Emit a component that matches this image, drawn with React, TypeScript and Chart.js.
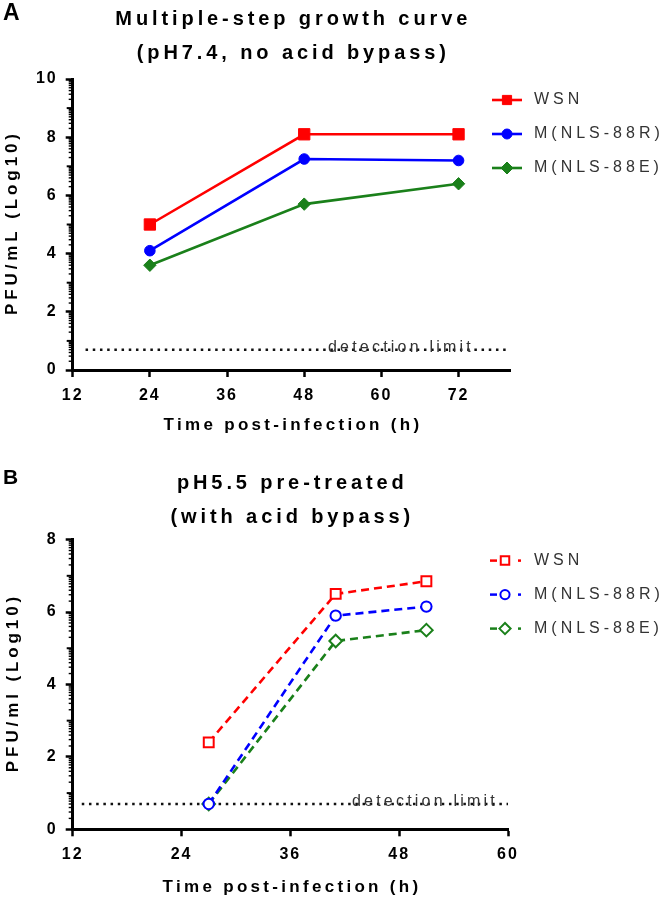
import React, { useEffect, useRef } from 'react';
import { Chart, registerables } from 'chart.js';
import { drawPoint } from 'chart.js/helpers';

Chart.register(...registerables);

const FONT = "Arial, 'Liberation Sans', Helvetica, sans-serif";

// ---------- data ----------
const seriesNames = ['WSN', 'M(NLS-88R)', 'M(NLS-88E)'];
const seriesColors = ['#FF0000', '#0000FF', '#1A801A'];
const pointStyles = ['rect', 'circle', 'rectRot'];

const timesA = [24, 48, 72];
const wsnA = [5.0, 8.1, 8.1];
const m88rA = [4.1, 7.25, 7.2];
const m88eA = [3.6, 5.7, 6.4];
const xTicksA = [12, 24, 36, 48, 60, 72];
const yTicksA = [0, 2, 4, 6, 8, 10];

const timesB = [27, 41, 51];
const wsnB = [2.4, 6.5, 6.85];
const m88rB = [0.7, 5.9, 6.15];
const m88eB = [0.7, 5.2, 5.5];
const xTicksB = [12, 24, 36, 48, 60];
const yTicksB = [0, 2, 4, 6, 8];

const detectionLimit = 0.7;
const detectionRangeA = [14, 80];
const detectionRangeB = [13, 60];

// ---------- panel layout specs ----------
const panelA = {
  letter: 'A', letterSize: 23, letterY: 14,
  title: ['Multiple-step growth curve', '(pH7.4, no acid bypass)'], titleY: [19, 53],
  yTitle: 'PFU/mL (Log10)', xTitle: 'Time post-infection (h)', yTitleX: 12, xTitleY: 425,
  height: 445, top: 79, right: 157, xAxisH: 75,
  xMin: 12, xMax: 80, yMin: 0, yMax: 10,
  xTicks: xTicksA, yTicks: yTicksA, times: timesA, series: [wsnA, m88rA, m88eA],
  dashed: false, detRange: detectionRangeA, detTextX: 328,
  radii: [8, 5.3, 6.2], legendRadii: [6.5, 5, 6], legendMarkerX: 507,
};

const panelB = {
  letter: 'B', letterSize: 21, letterY: 33,
  title: ['pH5.5 pre-treated', '(with acid bypass)'], titleY: [38, 72],
  yTitle: 'PFU/ml (Log10)', xTitle: 'Time post-infection (h)', yTitleX: 13, xTitleY: 442,
  height: 454, top: 94.6, right: 159, xAxisH: 69.7,
  xMin: 12, xMax: 60, yMin: 0, yMax: 8,
  xTicks: xTicksB, yTicks: yTicksB, times: timesB, series: [wsnB, m88rB, m88eB],
  dashed: true, detRange: detectionRangeB, detTextX: 352,
  radii: [7, 5.2, 6.3], legendRadii: [6, 4.6, 5.6], legendMarkerX: 505,
};

const legendOffsets = [21, 55, 89];

function drawText(ctx, str, x, y, font, color, spacing, align = 'center', baseline = 'middle', rotate = 0) {
  ctx.save();
  ctx.font = font;
  ctx.fillStyle = color;
  ctx.letterSpacing = spacing + 'px';
  ctx.textAlign = 'left';
  ctx.textBaseline = baseline;
  const w = ctx.measureText(str).width - spacing;
  ctx.translate(x, y);
  if (rotate) ctx.rotate(rotate);
  const sx = align === 'center' ? -w / 2 : align === 'right' ? -w : 0;
  ctx.fillText(str, sx, 0);
  ctx.restore();
}

function seg(ctx, x1, y1, x2, y2, w) {
  ctx.lineWidth = w;
  ctx.beginPath();
  ctx.moveTo(x1, y1);
  ctx.lineTo(x2, y2);
  ctx.stroke();
}

function buildConfig(spec) {
  const datasets = spec.series.map((vals, i) => ({
    label: seriesNames[i],
    data: spec.times.map((t, j) => ({ x: t, y: vals[j] })),
    borderColor: seriesColors[i],
    backgroundColor: spec.dashed ? '#FFFFFF' : seriesColors[i],
    pointBackgroundColor: spec.dashed ? '#FFFFFF' : seriesColors[i],
    pointBorderColor: seriesColors[i],
    pointStyle: pointStyles[i],
    pointRadius: spec.radii[i],
    pointBorderWidth: spec.dashed ? 2 : 1,
    borderWidth: 2.6,
    borderDash: spec.dashed ? [8, 5] : [],
    tension: 0,
    clip: false,
  }));
  datasets.push({
    label: 'detection limit',
    data: spec.detRange.map((x) => ({ x, y: detectionLimit })),
    borderColor: '#111111',
    backgroundColor: '#111111',
    borderWidth: 2.5,
    borderDash: [2.5, 4.7],
    pointRadius: 0,
    tension: 0,
    clip: false,
  } as any);

  const spacingPlugin = {
    id: 'spacing',
    beforeLayout(chart) { chart.ctx.letterSpacing = '2px'; },
    beforeDraw(chart) { chart.ctx.letterSpacing = '2px'; },
  };

  const decorPlugin = {
    id: 'decor',
    afterDraw(chart) {
      const { ctx, chartArea } = chart;
      const ys = chart.scales.y;
      const cx = (chartArea.left + chartArea.right) / 2;
      ctx.save();
      ctx.letterSpacing = '0px';
      ctx.strokeStyle = '#000';
      ctx.lineCap = 'butt';
      // minor log ticks on y axis
      for (let n = spec.yMin; n < spec.yMax; n++) {
        for (let k = 2; k <= 9; k++) {
          const py = ys.getPixelForValue(n + Math.log10(k));
          seg(ctx, chartArea.left - 4, py, chartArea.left, py, 1.4);
        }
        if (n % 2 === 1) {
          const py = ys.getPixelForValue(n);
          seg(ctx, chartArea.left - 6, py, chartArea.left, py, 2);
        }
      }
      ctx.restore();

      // panel letter
      drawText(ctx, spec.letter, 3, spec.letterY, `bold ${spec.letterSize}px ${FONT}`, '#000', 0, 'left');
      // titles
      spec.title.forEach((t, i) => drawText(ctx, t, cx, spec.titleY[i], `bold 20px ${FONT}`, '#000', 3.9));
      // axis titles
      drawText(ctx, spec.yTitle, spec.yTitleX, (chartArea.top + chartArea.bottom) / 2, `bold 17px ${FONT}`, '#000', 3.9, 'center', 'middle', -Math.PI / 2);
      drawText(ctx, spec.xTitle, cx, spec.xTitleY, `bold 17px ${FONT}`, '#000', 3.3);
      // detection limit label
      const dy = ys.getPixelForValue(detectionLimit);
      drawText(ctx, 'detection limit', spec.detTextX, dy + 2.5, `16px ${FONT}`, '#333', 3.2, 'left', 'alphabetic');

      // legend
      seriesNames.forEach((name, i) => {
        const y = chartArea.top + legendOffsets[i];
        const mx = spec.legendMarkerX;
        ctx.save();
        ctx.strokeStyle = seriesColors[i];
        ctx.fillStyle = spec.dashed ? '#FFFFFF' : seriesColors[i];
        if (!spec.dashed) {
          seg(ctx, mx - 15, y, mx + 15, y, 2.6);
        } else {
          seg(ctx, mx - 15, y, mx - 8, y, 2.5);
          seg(ctx, mx + 13, y, mx + 16, y, 2.5);
        }
        ctx.lineWidth = spec.dashed ? 2 : 1;
        drawPoint(ctx, { pointStyle: pointStyles[i], rotation: 0, radius: spec.legendRadii[i], borderWidth: spec.dashed ? 2 : 1 } as any, mx, y);
        ctx.restore();
        drawText(ctx, name, 534, y, `16px ${FONT}`, '#333', 4, 'left');
      });
    },
  };

  const tickFont = { family: FONT, size: 16, weight: 'bold' as const };
  const commonGrid = { display: true, drawOnChartArea: false, drawTicks: true, tickLength: 7, tickWidth: 2.5, tickColor: '#000' };

  return {
    type: 'line',
    data: { datasets },
    options: {
      animation: false,
      responsive: false,
      devicePixelRatio: 1,
      events: [],
      layout: { padding: { left: 0, top: spec.top, right: spec.right, bottom: 0 } },
      plugins: { legend: { display: false }, tooltip: { enabled: false }, title: { display: false } },
      scales: {
        x: {
          type: 'linear',
          min: spec.xMin,
          max: spec.xMax,
          afterBuildTicks: (s) => { s.ticks = spec.xTicks.map((v) => ({ value: v })); },
          afterFit: (s) => { s.height = spec.xAxisH; },
          border: { display: true, color: '#000', width: 3 },
          grid: commonGrid,
          ticks: { font: tickFont, color: '#000', padding: 9, maxRotation: 0, autoSkip: false },
        },
        y: {
          type: 'linear',
          min: spec.yMin,
          max: spec.yMax,
          afterBuildTicks: (s) => { s.ticks = spec.yTicks.map((v) => ({ value: v })); },
          afterFit: (s) => { s.width = 72.7; },
          border: { display: true, color: '#000', width: 3 },
          grid: commonGrid,
          ticks: { font: tickFont, color: '#000', padding: 8, autoSkip: false },
        },
      },
    },
    plugins: [spacingPlugin, decorPlugin],
  } as any;
}

function Panel({ spec }) {
  const ref = useRef<HTMLCanvasElement | null>(null);
  useEffect(() => {
    if (!ref.current) return;
    const chart = new Chart(ref.current, buildConfig(spec));
    return () => chart.destroy();
  }, [spec]);
  return (
    <canvas
      ref={ref}
      width={667}
      height={spec.height}
      style={{ display: 'block', width: 667, height: spec.height }}
    />
  );
}

export default function App() {
  return (
    <div style={{ position: 'absolute', left: 0, top: 0, width: 667, height: 899, background: '#FFFFFF' }}>
      <Panel spec={panelA} />
      <Panel spec={panelB} />
    </div>
  );
}
